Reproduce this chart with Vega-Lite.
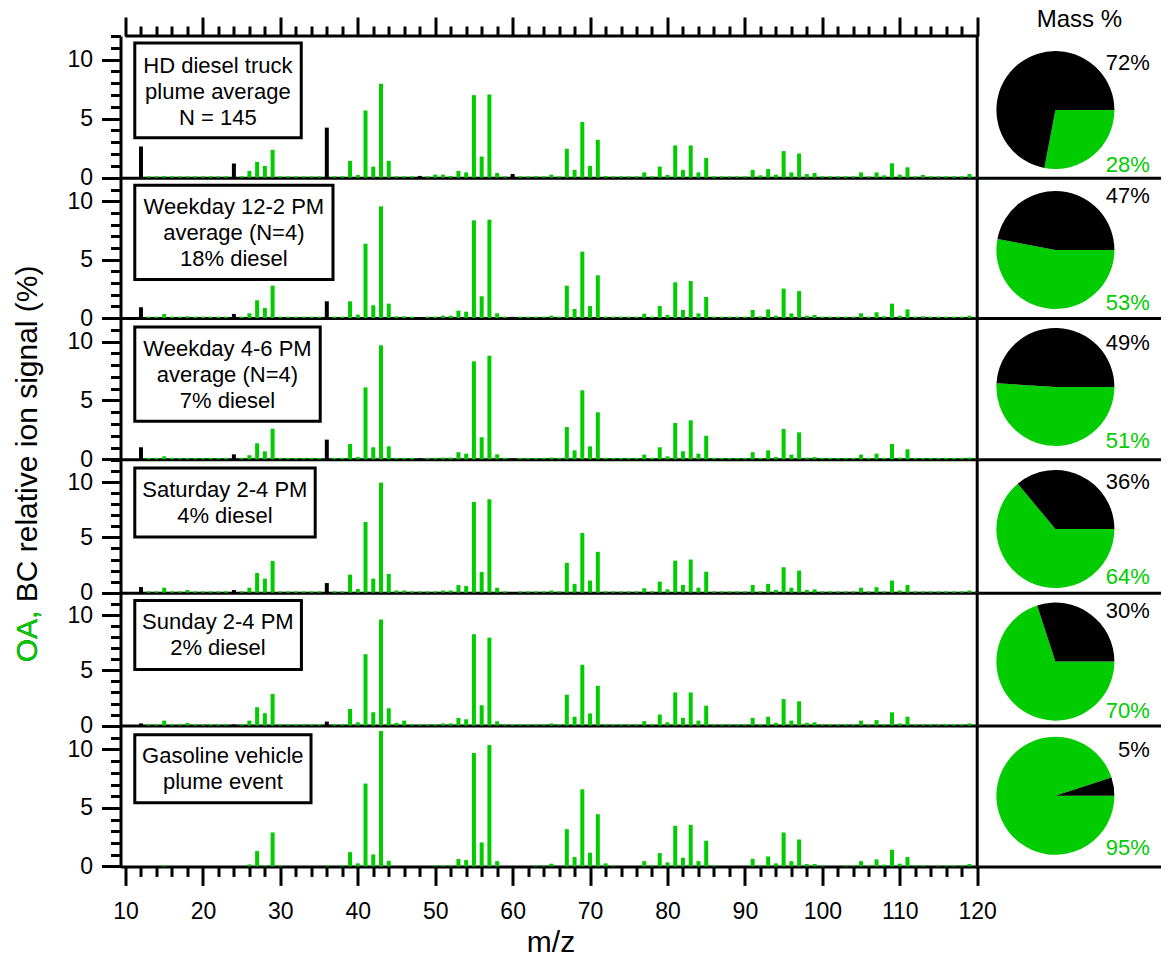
{
"$schema":"https://vega.github.io/schema/vega-lite/v6.json",
"background":"white",
"padding":{"left":12.5,"top":7,"right":0,"bottom":15},
"spacing":0,
"bounds":"flush",
"config":{"view":{"stroke":null},"font":"Liberation Sans",
"axis":{"grid":false,"domainColor":"black","domainWidth":3,"tickColor":"black","tickWidth":3,"labelColor":"black","labelFont":"Liberation Sans","labelFontSize":23,"labelFlush":false,"labelOverlap":false,"titleFont":"Liberation Sans","titleColor":"black","titleFontWeight":"normal"}},
"datasets":{
"labels":[{"p":1,"label":"HD diesel truck\nplume average\nN = 145"},{"p":2,"label":"Weekday 12-2 PM\naverage (N=4)\n18% diesel"},{"p":3,"label":"Weekday 4-6 PM\naverage (N=4)\n7% diesel"},{"p":4,"label":"Saturday 2-4 PM\n4% diesel"},{"p":5,"label":"Sunday 2-4 PM\n2% diesel"},{"p":6,"label":"Gasoline vehicle\nplume event"}],
"pie":[{"p":1,"t":"OA","f":0.28},{"p":1,"t":"BC","f":0.72},{"p":2,"t":"OA","f":0.53},{"p":2,"t":"BC","f":0.47},{"p":3,"t":"OA","f":0.51},{"p":3,"t":"BC","f":0.49},{"p":4,"t":"OA","f":0.64},{"p":4,"t":"BC","f":0.36},{"p":5,"t":"OA","f":0.70},{"p":5,"t":"BC","f":0.30},{"p":6,"t":"OA","f":0.95},{"p":6,"t":"BC","f":0.05}],
"ms":[
{"p":1,"m":12,"t":"BC","v":2.64},{"p":1,"m":24,"t":"BC","v":1.2},{"p":1,"m":36,"t":"BC","v":4.24},{"p":1,"m":48,"t":"BC","v":0.15},{"p":1,"m":60,"t":"BC","v":0.31},
{"p":1,"m":13,"t":"OA","v":0.12},{"p":1,"m":14,"t":"OA","v":0.12},{"p":1,"m":15,"t":"OA","v":0.15},{"p":1,"m":16,"t":"OA","v":0.12},{"p":1,"m":17,"t":"OA","v":0.12},{"p":1,"m":18,"t":"OA","v":0.12},{"p":1,"m":19,"t":"OA","v":0.12},{"p":1,"m":20,"t":"OA","v":0.12},{"p":1,"m":21,"t":"OA","v":0.12},{"p":1,"m":22,"t":"OA","v":0.12},{"p":1,"m":23,"t":"OA","v":0.12},{"p":1,"m":25,"t":"OA","v":0.12},{"p":1,"m":26,"t":"OA","v":0.57},{"p":1,"m":27,"t":"OA","v":1.34},{"p":1,"m":28,"t":"OA","v":1.0},{"p":1,"m":29,"t":"OA","v":2.36},{"p":1,"m":30,"t":"OA","v":0.12},{"p":1,"m":31,"t":"OA","v":0.12},{"p":1,"m":32,"t":"OA","v":0.12},{"p":1,"m":33,"t":"OA","v":0.12},{"p":1,"m":34,"t":"OA","v":0.12},{"p":1,"m":35,"t":"OA","v":0.12},{"p":1,"m":37,"t":"OA","v":0.12},{"p":1,"m":38,"t":"OA","v":0.12},{"p":1,"m":39,"t":"OA","v":1.42},{"p":1,"m":40,"t":"OA","v":0.23},{"p":1,"m":41,"t":"OA","v":5.69},{"p":1,"m":42,"t":"OA","v":0.94},{"p":1,"m":43,"t":"OA","v":7.96},{"p":1,"m":44,"t":"OA","v":1.42},{"p":1,"m":45,"t":"OA","v":0.12},{"p":1,"m":46,"t":"OA","v":0.12},{"p":1,"m":47,"t":"OA","v":0.12},{"p":1,"m":49,"t":"OA","v":0.12},{"p":1,"m":50,"t":"OA","v":0.26},{"p":1,"m":51,"t":"OA","v":0.26},{"p":1,"m":52,"t":"OA","v":0.15},{"p":1,"m":53,"t":"OA","v":0.57},{"p":1,"m":54,"t":"OA","v":0.45},{"p":1,"m":55,"t":"OA","v":6.99},{"p":1,"m":56,"t":"OA","v":1.79},{"p":1,"m":57,"t":"OA","v":7.05},{"p":1,"m":58,"t":"OA","v":0.4},{"p":1,"m":59,"t":"OA","v":0.12},{"p":1,"m":61,"t":"OA","v":0.12},{"p":1,"m":62,"t":"OA","v":0.12},{"p":1,"m":63,"t":"OA","v":0.15},{"p":1,"m":64,"t":"OA","v":0.12},{"p":1,"m":65,"t":"OA","v":0.26},{"p":1,"m":66,"t":"OA","v":0.12},{"p":1,"m":67,"t":"OA","v":2.45},{"p":1,"m":68,"t":"OA","v":0.66},{"p":1,"m":69,"t":"OA","v":4.72},{"p":1,"m":70,"t":"OA","v":1.0},{"p":1,"m":71,"t":"OA","v":3.21},{"p":1,"m":72,"t":"OA","v":0.15},{"p":1,"m":73,"t":"OA","v":0.12},{"p":1,"m":74,"t":"OA","v":0.12},{"p":1,"m":75,"t":"OA","v":0.12},{"p":1,"m":76,"t":"OA","v":0.12},{"p":1,"m":77,"t":"OA","v":0.45},{"p":1,"m":78,"t":"OA","v":0.12},{"p":1,"m":79,"t":"OA","v":0.94},{"p":1,"m":80,"t":"OA","v":0.23},{"p":1,"m":81,"t":"OA","v":2.73},{"p":1,"m":82,"t":"OA","v":0.66},{"p":1,"m":83,"t":"OA","v":2.73},{"p":1,"m":84,"t":"OA","v":0.45},{"p":1,"m":85,"t":"OA","v":1.68},{"p":1,"m":86,"t":"OA","v":0.12},{"p":1,"m":87,"t":"OA","v":0.12},{"p":1,"m":88,"t":"OA","v":0.12},{"p":1,"m":89,"t":"OA","v":0.12},{"p":1,"m":90,"t":"OA","v":0.12},{"p":1,"m":91,"t":"OA","v":0.66},{"p":1,"m":92,"t":"OA","v":0.2},{"p":1,"m":93,"t":"OA","v":0.74},{"p":1,"m":94,"t":"OA","v":0.26},{"p":1,"m":95,"t":"OA","v":2.25},{"p":1,"m":96,"t":"OA","v":0.45},{"p":1,"m":97,"t":"OA","v":2.05},{"p":1,"m":98,"t":"OA","v":0.31},{"p":1,"m":99,"t":"OA","v":0.4},{"p":1,"m":100,"t":"OA","v":0.12},{"p":1,"m":101,"t":"OA","v":0.12},{"p":1,"m":102,"t":"OA","v":0.12},{"p":1,"m":103,"t":"OA","v":0.12},{"p":1,"m":104,"t":"OA","v":0.12},{"p":1,"m":105,"t":"OA","v":0.45},{"p":1,"m":106,"t":"OA","v":0.12},{"p":1,"m":107,"t":"OA","v":0.45},{"p":1,"m":108,"t":"OA","v":0.2},{"p":1,"m":109,"t":"OA","v":1.22},{"p":1,"m":110,"t":"OA","v":0.26},{"p":1,"m":111,"t":"OA","v":0.88},{"p":1,"m":112,"t":"OA","v":0.12},{"p":1,"m":113,"t":"OA","v":0.23},{"p":1,"m":114,"t":"OA","v":0.12},{"p":1,"m":115,"t":"OA","v":0.12},{"p":1,"m":116,"t":"OA","v":0.12},{"p":1,"m":117,"t":"OA","v":0.12},{"p":1,"m":118,"t":"OA","v":0.12},{"p":1,"m":119,"t":"OA","v":0.31},{"p":1,"m":120,"t":"OA","v":0.12},
{"p":2,"m":12,"t":"BC","v":0.92},{"p":2,"m":24,"t":"BC","v":0.35},{"p":2,"m":36,"t":"BC","v":1.43},{"p":2,"m":48,"t":"BC","v":0.08},{"p":2,"m":60,"t":"BC","v":0.1},
{"p":2,"m":13,"t":"OA","v":0.12},{"p":2,"m":14,"t":"OA","v":0.12},{"p":2,"m":15,"t":"OA","v":0.34},{"p":2,"m":16,"t":"OA","v":0.12},{"p":2,"m":17,"t":"OA","v":0.12},{"p":2,"m":18,"t":"OA","v":0.15},{"p":2,"m":19,"t":"OA","v":0.12},{"p":2,"m":20,"t":"OA","v":0.12},{"p":2,"m":21,"t":"OA","v":0.12},{"p":2,"m":22,"t":"OA","v":0.12},{"p":2,"m":23,"t":"OA","v":0.12},{"p":2,"m":25,"t":"OA","v":0.12},{"p":2,"m":26,"t":"OA","v":0.4},{"p":2,"m":27,"t":"OA","v":1.52},{"p":2,"m":28,"t":"OA","v":0.86},{"p":2,"m":29,"t":"OA","v":2.77},{"p":2,"m":30,"t":"OA","v":0.12},{"p":2,"m":31,"t":"OA","v":0.12},{"p":2,"m":32,"t":"OA","v":0.12},{"p":2,"m":33,"t":"OA","v":0.12},{"p":2,"m":34,"t":"OA","v":0.12},{"p":2,"m":35,"t":"OA","v":0.12},{"p":2,"m":37,"t":"OA","v":0.12},{"p":2,"m":38,"t":"OA","v":0.12},{"p":2,"m":39,"t":"OA","v":1.43},{"p":2,"m":40,"t":"OA","v":0.29},{"p":2,"m":41,"t":"OA","v":6.37},{"p":2,"m":42,"t":"OA","v":1.09},{"p":2,"m":43,"t":"OA","v":9.57},{"p":2,"m":44,"t":"OA","v":1.23},{"p":2,"m":45,"t":"OA","v":0.15},{"p":2,"m":46,"t":"OA","v":0.15},{"p":2,"m":47,"t":"OA","v":0.12},{"p":2,"m":49,"t":"OA","v":0.12},{"p":2,"m":50,"t":"OA","v":0.12},{"p":2,"m":51,"t":"OA","v":0.2},{"p":2,"m":52,"t":"OA","v":0.2},{"p":2,"m":53,"t":"OA","v":0.63},{"p":2,"m":54,"t":"OA","v":0.54},{"p":2,"m":55,"t":"OA","v":8.37},{"p":2,"m":56,"t":"OA","v":1.86},{"p":2,"m":57,"t":"OA","v":8.43},{"p":2,"m":58,"t":"OA","v":0.4},{"p":2,"m":59,"t":"OA","v":0.12},{"p":2,"m":61,"t":"OA","v":0.12},{"p":2,"m":62,"t":"OA","v":0.12},{"p":2,"m":63,"t":"OA","v":0.12},{"p":2,"m":64,"t":"OA","v":0.12},{"p":2,"m":65,"t":"OA","v":0.2},{"p":2,"m":66,"t":"OA","v":0.12},{"p":2,"m":67,"t":"OA","v":2.77},{"p":2,"m":68,"t":"OA","v":0.77},{"p":2,"m":69,"t":"OA","v":5.69},{"p":2,"m":70,"t":"OA","v":1.03},{"p":2,"m":71,"t":"OA","v":3.66},{"p":2,"m":72,"t":"OA","v":0.12},{"p":2,"m":73,"t":"OA","v":0.12},{"p":2,"m":74,"t":"OA","v":0.12},{"p":2,"m":75,"t":"OA","v":0.12},{"p":2,"m":76,"t":"OA","v":0.12},{"p":2,"m":77,"t":"OA","v":0.37},{"p":2,"m":78,"t":"OA","v":0.12},{"p":2,"m":79,"t":"OA","v":1.03},{"p":2,"m":80,"t":"OA","v":0.26},{"p":2,"m":81,"t":"OA","v":3.06},{"p":2,"m":82,"t":"OA","v":0.69},{"p":2,"m":83,"t":"OA","v":3.17},{"p":2,"m":84,"t":"OA","v":0.4},{"p":2,"m":85,"t":"OA","v":1.8},{"p":2,"m":86,"t":"OA","v":0.12},{"p":2,"m":87,"t":"OA","v":0.12},{"p":2,"m":88,"t":"OA","v":0.12},{"p":2,"m":89,"t":"OA","v":0.12},{"p":2,"m":90,"t":"OA","v":0.12},{"p":2,"m":91,"t":"OA","v":0.69},{"p":2,"m":92,"t":"OA","v":0.15},{"p":2,"m":93,"t":"OA","v":0.74},{"p":2,"m":94,"t":"OA","v":0.2},{"p":2,"m":95,"t":"OA","v":2.52},{"p":2,"m":96,"t":"OA","v":0.4},{"p":2,"m":97,"t":"OA","v":2.31},{"p":2,"m":98,"t":"OA","v":0.2},{"p":2,"m":99,"t":"OA","v":0.26},{"p":2,"m":100,"t":"OA","v":0.12},{"p":2,"m":101,"t":"OA","v":0.12},{"p":2,"m":102,"t":"OA","v":0.12},{"p":2,"m":103,"t":"OA","v":0.12},{"p":2,"m":104,"t":"OA","v":0.12},{"p":2,"m":105,"t":"OA","v":0.4},{"p":2,"m":106,"t":"OA","v":0.12},{"p":2,"m":107,"t":"OA","v":0.49},{"p":2,"m":108,"t":"OA","v":0.15},{"p":2,"m":109,"t":"OA","v":1.23},{"p":2,"m":110,"t":"OA","v":0.2},{"p":2,"m":111,"t":"OA","v":0.74},{"p":2,"m":112,"t":"OA","v":0.12},{"p":2,"m":113,"t":"OA","v":0.15},{"p":2,"m":114,"t":"OA","v":0.12},{"p":2,"m":115,"t":"OA","v":0.12},{"p":2,"m":116,"t":"OA","v":0.12},{"p":2,"m":117,"t":"OA","v":0.12},{"p":2,"m":118,"t":"OA","v":0.12},{"p":2,"m":119,"t":"OA","v":0.2},{"p":2,"m":120,"t":"OA","v":0.12},
{"p":3,"m":12,"t":"BC","v":1.02},{"p":3,"m":24,"t":"BC","v":0.42},{"p":3,"m":36,"t":"BC","v":1.67},{"p":3,"m":48,"t":"BC","v":0.08},{"p":3,"m":60,"t":"BC","v":0.1},
{"p":3,"m":13,"t":"OA","v":0.12},{"p":3,"m":14,"t":"OA","v":0.12},{"p":3,"m":15,"t":"OA","v":0.25},{"p":3,"m":16,"t":"OA","v":0.12},{"p":3,"m":17,"t":"OA","v":0.12},{"p":3,"m":18,"t":"OA","v":0.12},{"p":3,"m":19,"t":"OA","v":0.12},{"p":3,"m":20,"t":"OA","v":0.12},{"p":3,"m":21,"t":"OA","v":0.12},{"p":3,"m":22,"t":"OA","v":0.12},{"p":3,"m":23,"t":"OA","v":0.12},{"p":3,"m":25,"t":"OA","v":0.12},{"p":3,"m":26,"t":"OA","v":0.35},{"p":3,"m":27,"t":"OA","v":1.36},{"p":3,"m":28,"t":"OA","v":0.68},{"p":3,"m":29,"t":"OA","v":2.6},{"p":3,"m":30,"t":"OA","v":0.12},{"p":3,"m":31,"t":"OA","v":0.12},{"p":3,"m":32,"t":"OA","v":0.12},{"p":3,"m":33,"t":"OA","v":0.12},{"p":3,"m":34,"t":"OA","v":0.12},{"p":3,"m":35,"t":"OA","v":0.12},{"p":3,"m":37,"t":"OA","v":0.12},{"p":3,"m":38,"t":"OA","v":0.12},{"p":3,"m":39,"t":"OA","v":1.3},{"p":3,"m":40,"t":"OA","v":0.2},{"p":3,"m":41,"t":"OA","v":6.11},{"p":3,"m":42,"t":"OA","v":1.02},{"p":3,"m":43,"t":"OA","v":9.68},{"p":3,"m":44,"t":"OA","v":1.1},{"p":3,"m":45,"t":"OA","v":0.12},{"p":3,"m":46,"t":"OA","v":0.12},{"p":3,"m":47,"t":"OA","v":0.12},{"p":3,"m":49,"t":"OA","v":0.12},{"p":3,"m":50,"t":"OA","v":0.12},{"p":3,"m":51,"t":"OA","v":0.15},{"p":3,"m":52,"t":"OA","v":0.15},{"p":3,"m":53,"t":"OA","v":0.6},{"p":3,"m":54,"t":"OA","v":0.48},{"p":3,"m":55,"t":"OA","v":8.32},{"p":3,"m":56,"t":"OA","v":1.87},{"p":3,"m":57,"t":"OA","v":8.8},{"p":3,"m":58,"t":"OA","v":0.42},{"p":3,"m":59,"t":"OA","v":0.12},{"p":3,"m":61,"t":"OA","v":0.12},{"p":3,"m":62,"t":"OA","v":0.12},{"p":3,"m":63,"t":"OA","v":0.12},{"p":3,"m":64,"t":"OA","v":0.12},{"p":3,"m":65,"t":"OA","v":0.15},{"p":3,"m":66,"t":"OA","v":0.12},{"p":3,"m":67,"t":"OA","v":2.74},{"p":3,"m":68,"t":"OA","v":0.76},{"p":3,"m":69,"t":"OA","v":5.86},{"p":3,"m":70,"t":"OA","v":1.1},{"p":3,"m":71,"t":"OA","v":3.99},{"p":3,"m":72,"t":"OA","v":0.12},{"p":3,"m":73,"t":"OA","v":0.12},{"p":3,"m":74,"t":"OA","v":0.12},{"p":3,"m":75,"t":"OA","v":0.12},{"p":3,"m":76,"t":"OA","v":0.12},{"p":3,"m":77,"t":"OA","v":0.4},{"p":3,"m":78,"t":"OA","v":0.12},{"p":3,"m":79,"t":"OA","v":1.02},{"p":3,"m":80,"t":"OA","v":0.25},{"p":3,"m":81,"t":"OA","v":3.08},{"p":3,"m":82,"t":"OA","v":0.68},{"p":3,"m":83,"t":"OA","v":3.31},{"p":3,"m":84,"t":"OA","v":0.48},{"p":3,"m":85,"t":"OA","v":2.0},{"p":3,"m":86,"t":"OA","v":0.12},{"p":3,"m":87,"t":"OA","v":0.12},{"p":3,"m":88,"t":"OA","v":0.12},{"p":3,"m":89,"t":"OA","v":0.12},{"p":3,"m":90,"t":"OA","v":0.12},{"p":3,"m":91,"t":"OA","v":0.6},{"p":3,"m":92,"t":"OA","v":0.12},{"p":3,"m":93,"t":"OA","v":0.76},{"p":3,"m":94,"t":"OA","v":0.2},{"p":3,"m":95,"t":"OA","v":2.57},{"p":3,"m":96,"t":"OA","v":0.4},{"p":3,"m":97,"t":"OA","v":2.29},{"p":3,"m":98,"t":"OA","v":0.15},{"p":3,"m":99,"t":"OA","v":0.2},{"p":3,"m":100,"t":"OA","v":0.12},{"p":3,"m":101,"t":"OA","v":0.12},{"p":3,"m":102,"t":"OA","v":0.12},{"p":3,"m":103,"t":"OA","v":0.12},{"p":3,"m":104,"t":"OA","v":0.12},{"p":3,"m":105,"t":"OA","v":0.4},{"p":3,"m":106,"t":"OA","v":0.12},{"p":3,"m":107,"t":"OA","v":0.48},{"p":3,"m":108,"t":"OA","v":0.12},{"p":3,"m":109,"t":"OA","v":1.3},{"p":3,"m":110,"t":"OA","v":0.15},{"p":3,"m":111,"t":"OA","v":0.85},{"p":3,"m":112,"t":"OA","v":0.12},{"p":3,"m":113,"t":"OA","v":0.12},{"p":3,"m":114,"t":"OA","v":0.12},{"p":3,"m":115,"t":"OA","v":0.12},{"p":3,"m":116,"t":"OA","v":0.12},{"p":3,"m":117,"t":"OA","v":0.12},{"p":3,"m":118,"t":"OA","v":0.12},{"p":3,"m":119,"t":"OA","v":0.15},{"p":3,"m":120,"t":"OA","v":0.12},
{"p":4,"m":12,"t":"BC","v":0.51},{"p":4,"m":24,"t":"BC","v":0.24},{"p":4,"m":36,"t":"BC","v":0.87},{"p":4,"m":60,"t":"BC","v":0.06},
{"p":4,"m":13,"t":"OA","v":0.12},{"p":4,"m":14,"t":"OA","v":0.12},{"p":4,"m":15,"t":"OA","v":0.45},{"p":4,"m":16,"t":"OA","v":0.12},{"p":4,"m":17,"t":"OA","v":0.12},{"p":4,"m":18,"t":"OA","v":0.24},{"p":4,"m":19,"t":"OA","v":0.12},{"p":4,"m":20,"t":"OA","v":0.12},{"p":4,"m":21,"t":"OA","v":0.12},{"p":4,"m":22,"t":"OA","v":0.12},{"p":4,"m":23,"t":"OA","v":0.12},{"p":4,"m":25,"t":"OA","v":0.12},{"p":4,"m":26,"t":"OA","v":0.45},{"p":4,"m":27,"t":"OA","v":1.78},{"p":4,"m":28,"t":"OA","v":1.27},{"p":4,"m":29,"t":"OA","v":2.87},{"p":4,"m":30,"t":"OA","v":0.12},{"p":4,"m":31,"t":"OA","v":0.12},{"p":4,"m":32,"t":"OA","v":0.12},{"p":4,"m":33,"t":"OA","v":0.12},{"p":4,"m":34,"t":"OA","v":0.12},{"p":4,"m":35,"t":"OA","v":0.12},{"p":4,"m":37,"t":"OA","v":0.12},{"p":4,"m":38,"t":"OA","v":0.12},{"p":4,"m":39,"t":"OA","v":1.63},{"p":4,"m":40,"t":"OA","v":0.33},{"p":4,"m":41,"t":"OA","v":6.39},{"p":4,"m":42,"t":"OA","v":1.27},{"p":4,"m":43,"t":"OA","v":9.95},{"p":4,"m":44,"t":"OA","v":1.69},{"p":4,"m":45,"t":"OA","v":0.2},{"p":4,"m":46,"t":"OA","v":0.2},{"p":4,"m":47,"t":"OA","v":0.12},{"p":4,"m":48,"t":"OA","v":0.12},{"p":4,"m":49,"t":"OA","v":0.12},{"p":4,"m":50,"t":"OA","v":0.12},{"p":4,"m":51,"t":"OA","v":0.2},{"p":4,"m":52,"t":"OA","v":0.2},{"p":4,"m":53,"t":"OA","v":0.69},{"p":4,"m":54,"t":"OA","v":0.6},{"p":4,"m":55,"t":"OA","v":8.2},{"p":4,"m":56,"t":"OA","v":1.87},{"p":4,"m":57,"t":"OA","v":8.45},{"p":4,"m":58,"t":"OA","v":0.45},{"p":4,"m":59,"t":"OA","v":0.12},{"p":4,"m":61,"t":"OA","v":0.12},{"p":4,"m":62,"t":"OA","v":0.12},{"p":4,"m":63,"t":"OA","v":0.12},{"p":4,"m":64,"t":"OA","v":0.12},{"p":4,"m":65,"t":"OA","v":0.2},{"p":4,"m":66,"t":"OA","v":0.12},{"p":4,"m":67,"t":"OA","v":2.7},{"p":4,"m":68,"t":"OA","v":0.8},{"p":4,"m":69,"t":"OA","v":5.4},{"p":4,"m":70,"t":"OA","v":1.1},{"p":4,"m":71,"t":"OA","v":3.7},{"p":4,"m":72,"t":"OA","v":0.12},{"p":4,"m":73,"t":"OA","v":0.12},{"p":4,"m":74,"t":"OA","v":0.12},{"p":4,"m":75,"t":"OA","v":0.12},{"p":4,"m":76,"t":"OA","v":0.12},{"p":4,"m":77,"t":"OA","v":0.4},{"p":4,"m":78,"t":"OA","v":0.12},{"p":4,"m":79,"t":"OA","v":1.0},{"p":4,"m":80,"t":"OA","v":0.3},{"p":4,"m":81,"t":"OA","v":2.9},{"p":4,"m":82,"t":"OA","v":0.7},{"p":4,"m":83,"t":"OA","v":3.0},{"p":4,"m":84,"t":"OA","v":0.45},{"p":4,"m":85,"t":"OA","v":1.9},{"p":4,"m":86,"t":"OA","v":0.12},{"p":4,"m":87,"t":"OA","v":0.12},{"p":4,"m":88,"t":"OA","v":0.12},{"p":4,"m":89,"t":"OA","v":0.12},{"p":4,"m":90,"t":"OA","v":0.12},{"p":4,"m":91,"t":"OA","v":0.7},{"p":4,"m":92,"t":"OA","v":0.12},{"p":4,"m":93,"t":"OA","v":0.8},{"p":4,"m":94,"t":"OA","v":0.25},{"p":4,"m":95,"t":"OA","v":2.3},{"p":4,"m":96,"t":"OA","v":0.45},{"p":4,"m":97,"t":"OA","v":2.0},{"p":4,"m":98,"t":"OA","v":0.25},{"p":4,"m":99,"t":"OA","v":0.3},{"p":4,"m":100,"t":"OA","v":0.12},{"p":4,"m":101,"t":"OA","v":0.12},{"p":4,"m":102,"t":"OA","v":0.12},{"p":4,"m":103,"t":"OA","v":0.12},{"p":4,"m":104,"t":"OA","v":0.12},{"p":4,"m":105,"t":"OA","v":0.45},{"p":4,"m":106,"t":"OA","v":0.12},{"p":4,"m":107,"t":"OA","v":0.5},{"p":4,"m":108,"t":"OA","v":0.12},{"p":4,"m":109,"t":"OA","v":1.1},{"p":4,"m":110,"t":"OA","v":0.2},{"p":4,"m":111,"t":"OA","v":0.7},{"p":4,"m":112,"t":"OA","v":0.12},{"p":4,"m":113,"t":"OA","v":0.12},{"p":4,"m":114,"t":"OA","v":0.12},{"p":4,"m":115,"t":"OA","v":0.12},{"p":4,"m":116,"t":"OA","v":0.12},{"p":4,"m":117,"t":"OA","v":0.12},{"p":4,"m":118,"t":"OA","v":0.12},{"p":4,"m":119,"t":"OA","v":0.2},{"p":4,"m":120,"t":"OA","v":0.12},
{"p":5,"m":12,"t":"BC","v":0.2},{"p":5,"m":24,"t":"BC","v":0.1},{"p":5,"m":36,"t":"BC","v":0.36},
{"p":5,"m":13,"t":"OA","v":0.12},{"p":5,"m":14,"t":"OA","v":0.12},{"p":5,"m":15,"t":"OA","v":0.45},{"p":5,"m":16,"t":"OA","v":0.12},{"p":5,"m":17,"t":"OA","v":0.12},{"p":5,"m":18,"t":"OA","v":0.24},{"p":5,"m":19,"t":"OA","v":0.12},{"p":5,"m":20,"t":"OA","v":0.12},{"p":5,"m":21,"t":"OA","v":0.12},{"p":5,"m":22,"t":"OA","v":0.12},{"p":5,"m":23,"t":"OA","v":0.12},{"p":5,"m":25,"t":"OA","v":0.12},{"p":5,"m":26,"t":"OA","v":0.45},{"p":5,"m":27,"t":"OA","v":1.66},{"p":5,"m":28,"t":"OA","v":1.12},{"p":5,"m":29,"t":"OA","v":2.87},{"p":5,"m":30,"t":"OA","v":0.12},{"p":5,"m":31,"t":"OA","v":0.12},{"p":5,"m":32,"t":"OA","v":0.12},{"p":5,"m":33,"t":"OA","v":0.12},{"p":5,"m":34,"t":"OA","v":0.12},{"p":5,"m":35,"t":"OA","v":0.12},{"p":5,"m":37,"t":"OA","v":0.12},{"p":5,"m":38,"t":"OA","v":0.12},{"p":5,"m":39,"t":"OA","v":1.51},{"p":5,"m":40,"t":"OA","v":0.3},{"p":5,"m":41,"t":"OA","v":6.46},{"p":5,"m":42,"t":"OA","v":1.21},{"p":5,"m":43,"t":"OA","v":9.6},{"p":5,"m":44,"t":"OA","v":1.57},{"p":5,"m":45,"t":"OA","v":0.25},{"p":5,"m":46,"t":"OA","v":0.45},{"p":5,"m":47,"t":"OA","v":0.12},{"p":5,"m":48,"t":"OA","v":0.12},{"p":5,"m":49,"t":"OA","v":0.12},{"p":5,"m":50,"t":"OA","v":0.12},{"p":5,"m":51,"t":"OA","v":0.2},{"p":5,"m":52,"t":"OA","v":0.2},{"p":5,"m":53,"t":"OA","v":0.69},{"p":5,"m":54,"t":"OA","v":0.57},{"p":5,"m":55,"t":"OA","v":8.27},{"p":5,"m":56,"t":"OA","v":1.84},{"p":5,"m":57,"t":"OA","v":7.96},{"p":5,"m":58,"t":"OA","v":0.39},{"p":5,"m":59,"t":"OA","v":0.12},{"p":5,"m":60,"t":"OA","v":0.12},{"p":5,"m":61,"t":"OA","v":0.12},{"p":5,"m":62,"t":"OA","v":0.12},{"p":5,"m":63,"t":"OA","v":0.12},{"p":5,"m":64,"t":"OA","v":0.12},{"p":5,"m":65,"t":"OA","v":0.2},{"p":5,"m":66,"t":"OA","v":0.12},{"p":5,"m":67,"t":"OA","v":2.8},{"p":5,"m":68,"t":"OA","v":0.8},{"p":5,"m":69,"t":"OA","v":5.5},{"p":5,"m":70,"t":"OA","v":1.1},{"p":5,"m":71,"t":"OA","v":3.6},{"p":5,"m":72,"t":"OA","v":0.12},{"p":5,"m":73,"t":"OA","v":0.12},{"p":5,"m":74,"t":"OA","v":0.12},{"p":5,"m":75,"t":"OA","v":0.12},{"p":5,"m":76,"t":"OA","v":0.12},{"p":5,"m":77,"t":"OA","v":0.4},{"p":5,"m":78,"t":"OA","v":0.12},{"p":5,"m":79,"t":"OA","v":1.0},{"p":5,"m":80,"t":"OA","v":0.3},{"p":5,"m":81,"t":"OA","v":3.0},{"p":5,"m":82,"t":"OA","v":0.7},{"p":5,"m":83,"t":"OA","v":3.0},{"p":5,"m":84,"t":"OA","v":0.45},{"p":5,"m":85,"t":"OA","v":1.8},{"p":5,"m":86,"t":"OA","v":0.12},{"p":5,"m":87,"t":"OA","v":0.12},{"p":5,"m":88,"t":"OA","v":0.12},{"p":5,"m":89,"t":"OA","v":0.12},{"p":5,"m":90,"t":"OA","v":0.12},{"p":5,"m":91,"t":"OA","v":0.7},{"p":5,"m":92,"t":"OA","v":0.12},{"p":5,"m":93,"t":"OA","v":0.8},{"p":5,"m":94,"t":"OA","v":0.25},{"p":5,"m":95,"t":"OA","v":2.4},{"p":5,"m":96,"t":"OA","v":0.45},{"p":5,"m":97,"t":"OA","v":2.2},{"p":5,"m":98,"t":"OA","v":0.25},{"p":5,"m":99,"t":"OA","v":0.3},{"p":5,"m":100,"t":"OA","v":0.12},{"p":5,"m":101,"t":"OA","v":0.12},{"p":5,"m":102,"t":"OA","v":0.12},{"p":5,"m":103,"t":"OA","v":0.12},{"p":5,"m":104,"t":"OA","v":0.12},{"p":5,"m":105,"t":"OA","v":0.45},{"p":5,"m":106,"t":"OA","v":0.12},{"p":5,"m":107,"t":"OA","v":0.5},{"p":5,"m":108,"t":"OA","v":0.12},{"p":5,"m":109,"t":"OA","v":1.2},{"p":5,"m":110,"t":"OA","v":0.2},{"p":5,"m":111,"t":"OA","v":0.8},{"p":5,"m":112,"t":"OA","v":0.12},{"p":5,"m":113,"t":"OA","v":0.12},{"p":5,"m":114,"t":"OA","v":0.12},{"p":5,"m":115,"t":"OA","v":0.12},{"p":5,"m":116,"t":"OA","v":0.12},{"p":5,"m":117,"t":"OA","v":0.12},{"p":5,"m":118,"t":"OA","v":0.12},{"p":5,"m":119,"t":"OA","v":0.2},{"p":5,"m":120,"t":"OA","v":0.12},
{"p":6,"m":15,"t":"OA","v":0.1},{"p":6,"m":26,"t":"OA","v":0.17},{"p":6,"m":27,"t":"OA","v":1.31},{"p":6,"m":28,"t":"OA","v":0.08},{"p":6,"m":29,"t":"OA","v":2.9},{"p":6,"m":30,"t":"OA","v":0.08},{"p":6,"m":36,"t":"OA","v":0.08},{"p":6,"m":38,"t":"OA","v":0.08},{"p":6,"m":39,"t":"OA","v":1.22},{"p":6,"m":40,"t":"OA","v":0.26},{"p":6,"m":41,"t":"OA","v":7.08},{"p":6,"m":42,"t":"OA","v":1.02},{"p":6,"m":43,"t":"OA","v":11.57},{"p":6,"m":44,"t":"OA","v":0.48},{"p":6,"m":50,"t":"OA","v":0.08},{"p":6,"m":51,"t":"OA","v":0.1},{"p":6,"m":52,"t":"OA","v":0.08},{"p":6,"m":53,"t":"OA","v":0.63},{"p":6,"m":54,"t":"OA","v":0.54},{"p":6,"m":55,"t":"OA","v":9.69},{"p":6,"m":56,"t":"OA","v":2.05},{"p":6,"m":57,"t":"OA","v":10.37},{"p":6,"m":58,"t":"OA","v":0.45},{"p":6,"m":63,"t":"OA","v":0.08},{"p":6,"m":64,"t":"OA","v":0.08},{"p":6,"m":65,"t":"OA","v":0.23},{"p":6,"m":67,"t":"OA","v":3.18},{"p":6,"m":68,"t":"OA","v":0.8},{"p":6,"m":69,"t":"OA","v":6.59},{"p":6,"m":70,"t":"OA","v":1.17},{"p":6,"m":71,"t":"OA","v":4.46},{"p":6,"m":72,"t":"OA","v":0.26},{"p":6,"m":73,"t":"OA","v":0.08},{"p":6,"m":77,"t":"OA","v":0.45},{"p":6,"m":78,"t":"OA","v":0.08},{"p":6,"m":79,"t":"OA","v":1.14},{"p":6,"m":80,"t":"OA","v":0.34},{"p":6,"m":81,"t":"OA","v":3.47},{"p":6,"m":82,"t":"OA","v":0.74},{"p":6,"m":83,"t":"OA","v":3.55},{"p":6,"m":84,"t":"OA","v":0.45},{"p":6,"m":85,"t":"OA","v":2.19},{"p":6,"m":86,"t":"OA","v":0.08},{"p":6,"m":91,"t":"OA","v":0.65},{"p":6,"m":92,"t":"OA","v":0.1},{"p":6,"m":93,"t":"OA","v":0.85},{"p":6,"m":94,"t":"OA","v":0.26},{"p":6,"m":95,"t":"OA","v":2.9},{"p":6,"m":96,"t":"OA","v":0.45},{"p":6,"m":97,"t":"OA","v":2.3},{"p":6,"m":98,"t":"OA","v":0.2},{"p":6,"m":99,"t":"OA","v":0.2},{"p":6,"m":100,"t":"OA","v":0.08},{"p":6,"m":103,"t":"OA","v":0.08},{"p":6,"m":104,"t":"OA","v":0.08},{"p":6,"m":105,"t":"OA","v":0.45},{"p":6,"m":106,"t":"OA","v":0.08},{"p":6,"m":107,"t":"OA","v":0.6},{"p":6,"m":108,"t":"OA","v":0.15},{"p":6,"m":109,"t":"OA","v":1.42},{"p":6,"m":110,"t":"OA","v":0.23},{"p":6,"m":111,"t":"OA","v":0.8},{"p":6,"m":112,"t":"OA","v":0.08},{"p":6,"m":113,"t":"OA","v":0.1},{"p":6,"m":115,"t":"OA","v":0.08},{"p":6,"m":116,"t":"OA","v":0.08},{"p":6,"m":117,"t":"OA","v":0.08},{"p":6,"m":118,"t":"OA","v":0.08},{"p":6,"m":119,"t":"OA","v":0.2},{"p":6,"m":120,"t":"OA","v":0.08}
]},
"vconcat":[
{"width":1040,"height":141.7,"resolve":{"axis":{"x":"independent","y":"independent"}},"layer":[
 {"data":{"name":"labels"},"transform":[{"filter":"datum.p==1"}],"mark":{"type":"rect","fill":"white","stroke":"black","strokeWidth":3},"encoding":{"x":{"datum":11.2,"type":"quantitative","axis":null},"x2":{"datum":32.7},"y":{"datum":11.4,"type":"quantitative","axis":null},"y2":{"datum":3.38}}},
 {"data":{"name":"labels"},"transform":[{"filter":"datum.p==1"}],"mark":{"type":"text","fontSize":22,"lineHeight":26,"lineBreak":"\n","align":"center","baseline":"middle","color":"black"},"encoding":{"x":{"datum":21.93,"type":"quantitative","axis":null},"y":{"datum":9.46,"type":"quantitative","axis":null},"text":{"field":"label"}}},
 {"data":{"name":"ms"},"transform":[{"filter":"datum.p==1"}],"mark":{"type":"bar","width":4,"orient":"vertical"},"encoding":{"x":{"field":"m","type":"quantitative","scale":{"domain":[10,143.03],"nice":false,"zero":false},"axis":{"orient":"top","values":[10,20,30,40,50,60,70,80,90,100,110,120],"tickSize":19,"labels":false,"domain":false,"title":null}},"y":{"field":"v","type":"quantitative","stack":null,"scale":{"domain":[0,12],"nice":false},"axis":{"orient":"left","values":[0,5,10],"tickSize":19,"labelPadding":9,"title":null}},"color":{"field":"t","type":"nominal","scale":{"domain":["OA","BC"],"range":["#00cc00","#000000"]},"legend":null}}},
 {"data":{"values":[{}]},"mark":{"type":"rule","strokeWidth":3,"color":"black"},"encoding":{"x":{"datum":120,"type":"quantitative","axis":{"orient":"top","values":[12,14,16,18,22,24,26,28,32,34,36,38,42,44,46,48,52,54,56,58,62,64,66,68,72,74,76,78,82,84,86,88,92,94,96,98,102,104,106,108,112,114,116,118],"tickSize":10,"labels":false,"domain":false,"title":null}},"y":{"datum":0,"type":"quantitative","axis":{"orient":"left","values":[1,2,3,4,6,7,8,9,11,12],"tickSize":10,"labels":false,"domain":false,"title":null}},"y2":{"datum":12}}},
 {"data":{"values":[{}]},"mark":{"type":"rule","strokeWidth":3,"color":"black"},"encoding":{"x":{"datum":10,"type":"quantitative","axis":{"orient":"bottom","ticks":false,"labels":false,"domain":true,"title":null}},"x2":{"datum":120},"y":{"datum":12,"type":"quantitative","axis":null}}},
 {"data":{"name":"pie"},"transform":[{"filter":"datum.p==1"}],"mark":{"type":"arc","outerRadius":59},"encoding":{"x":{"datum":130.1,"type":"quantitative","axis":null},"y":{"datum":5.73,"type":"quantitative","axis":null},"theta":{"field":"f","type":"quantitative","stack":true,"scale":{"range":[1.5708,7.854]}},"order":{"field":"t","sort":"descending"},"color":{"field":"t","type":"nominal","scale":{"domain":["OA","BC"],"range":["#00cc00","#000000"]},"legend":null}}},
 {"data":{"name":"pie"},"transform":[{"filter":"datum.p==1 && datum.t=='BC'"}],"mark":{"type":"text","align":"right","baseline":"middle","fontSize":22},"encoding":{"x":{"datum":142.3,"type":"quantitative","axis":null},"y":{"datum":9.72,"type":"quantitative","axis":null},"text":{"field":"f","type":"quantitative","format":".0%"},"color":{"field":"t","type":"nominal","scale":{"domain":["OA","BC"],"range":["#00cc00","#000000"]},"legend":null}}},
 {"data":{"name":"pie"},"transform":[{"filter":"datum.p==1 && datum.t=='OA'"}],"mark":{"type":"text","align":"right","baseline":"middle","fontSize":22},"encoding":{"x":{"datum":142.3,"type":"quantitative","axis":null},"y":{"datum":1.08,"type":"quantitative","axis":null},"text":{"field":"f","type":"quantitative","format":".0%"},"color":{"field":"t","type":"nominal","scale":{"domain":["OA","BC"],"range":["#00cc00","#000000"]},"legend":null}}},
 {"data":{"values":[{"s":"Mass %"}]},"mark":{"type":"text","fontSize":24,"align":"center","baseline":"middle","color":"black"},"encoding":{"x":{"datum":133.2,"type":"quantitative","axis":null},"y":{"datum":13.36,"type":"quantitative","axis":null},"text":{"field":"s"}}}
]},
{"width":1040,"height":140,"resolve":{"axis":{"x":"independent","y":"independent"}},"layer":[
 {"data":{"name":"labels"},"transform":[{"filter":"datum.p==2"}],"mark":{"type":"rect","fill":"white","stroke":"black","strokeWidth":3},"encoding":{"x":{"datum":11.2,"type":"quantitative","axis":null},"x2":{"datum":36.8},"y":{"datum":11.37,"type":"quantitative","axis":null},"y2":{"datum":3.29}}},
 {"data":{"name":"labels"},"transform":[{"filter":"datum.p==2"}],"mark":{"type":"text","fontSize":22,"lineHeight":26,"lineBreak":"\n","align":"center","baseline":"middle","color":"black"},"encoding":{"x":{"datum":24.0,"type":"quantitative","axis":null},"y":{"datum":9.49,"type":"quantitative","axis":null},"text":{"field":"label"}}},
 {"data":{"name":"ms"},"transform":[{"filter":"datum.p==2"}],"mark":{"type":"bar","width":4,"orient":"vertical"},"encoding":{"x":{"field":"m","type":"quantitative","scale":{"domain":[10,143.03],"nice":false,"zero":false},"axis":{"orient":"bottom","ticks":false,"labels":false,"domain":true,"title":null}},"y":{"field":"v","type":"quantitative","stack":null,"scale":{"domain":[0,12],"nice":false},"axis":{"orient":"left","values":[0,5,10],"tickSize":19,"labelPadding":9,"title":null}},"color":{"field":"t","type":"nominal","scale":{"domain":["OA","BC"],"range":["#00cc00","#000000"]},"legend":null}}},
 {"data":{"values":[{}]},"mark":{"type":"rule","strokeWidth":3,"color":"black"},"encoding":{"x":{"datum":120,"type":"quantitative","axis":null},"y":{"datum":0,"type":"quantitative","axis":{"orient":"left","values":[1,2,3,4,6,7,8,9,11,12],"tickSize":10,"labels":false,"domain":false,"title":null}},"y2":{"datum":12}}},
 {"data":{"name":"pie"},"transform":[{"filter":"datum.p==2"}],"mark":{"type":"arc","outerRadius":59},"encoding":{"x":{"datum":130.1,"type":"quantitative","axis":null},"y":{"datum":5.83,"type":"quantitative","axis":null},"theta":{"field":"f","type":"quantitative","stack":true,"scale":{"range":[1.5708,7.854]}},"order":{"field":"t","sort":"descending"},"color":{"field":"t","type":"nominal","scale":{"domain":["OA","BC"],"range":["#00cc00","#000000"]},"legend":null}}},
 {"data":{"name":"pie"},"transform":[{"filter":"datum.p==2 && datum.t=='BC'"}],"mark":{"type":"text","align":"right","baseline":"middle","fontSize":22},"encoding":{"x":{"datum":142.3,"type":"quantitative","axis":null},"y":{"datum":10.43,"type":"quantitative","axis":null},"text":{"field":"f","type":"quantitative","format":".0%"},"color":{"field":"t","type":"nominal","scale":{"domain":["OA","BC"],"range":["#00cc00","#000000"]},"legend":null}}},
 {"data":{"name":"pie"},"transform":[{"filter":"datum.p==2 && datum.t=='OA'"}],"mark":{"type":"text","align":"right","baseline":"middle","fontSize":22},"encoding":{"x":{"datum":142.3,"type":"quantitative","axis":null},"y":{"datum":1.29,"type":"quantitative","axis":null},"text":{"field":"f","type":"quantitative","format":".0%"},"color":{"field":"t","type":"nominal","scale":{"domain":["OA","BC"],"range":["#00cc00","#000000"]},"legend":null}}}
]},
{"width":1040,"height":141.3,"resolve":{"axis":{"x":"independent","y":"independent"}},"layer":[
 {"data":{"name":"labels"},"transform":[{"filter":"datum.p==3"}],"mark":{"type":"rect","fill":"white","stroke":"black","strokeWidth":3},"encoding":{"x":{"datum":11.2,"type":"quantitative","axis":null},"x2":{"datum":35.15},"y":{"datum":11.23,"type":"quantitative","axis":null},"y2":{"datum":3.23}}},
 {"data":{"name":"labels"},"transform":[{"filter":"datum.p==3"}],"mark":{"type":"text","fontSize":22,"lineHeight":26,"lineBreak":"\n","align":"center","baseline":"middle","color":"black"},"encoding":{"x":{"datum":23.17,"type":"quantitative","axis":null},"y":{"datum":9.37,"type":"quantitative","axis":null},"text":{"field":"label"}}},
 {"data":{"name":"ms"},"transform":[{"filter":"datum.p==3"}],"mark":{"type":"bar","width":4,"orient":"vertical"},"encoding":{"x":{"field":"m","type":"quantitative","scale":{"domain":[10,143.03],"nice":false,"zero":false},"axis":{"orient":"bottom","ticks":false,"labels":false,"domain":true,"title":null}},"y":{"field":"v","type":"quantitative","stack":null,"scale":{"domain":[0,12],"nice":false},"axis":{"orient":"left","values":[0,5,10],"tickSize":19,"labelPadding":9,"title":null}},"color":{"field":"t","type":"nominal","scale":{"domain":["OA","BC"],"range":["#00cc00","#000000"]},"legend":null}}},
 {"data":{"values":[{}]},"mark":{"type":"rule","strokeWidth":3,"color":"black"},"encoding":{"x":{"datum":120,"type":"quantitative","axis":null},"y":{"datum":0,"type":"quantitative","axis":{"orient":"left","values":[1,2,3,4,6,7,8,9,11,12],"tickSize":10,"labels":false,"domain":false,"title":null}},"y2":{"datum":12}}},
 {"data":{"name":"pie"},"transform":[{"filter":"datum.p==3"}],"mark":{"type":"arc","outerRadius":59},"encoding":{"x":{"datum":130.1,"type":"quantitative","axis":null},"y":{"datum":6.15,"type":"quantitative","axis":null},"theta":{"field":"f","type":"quantitative","stack":true,"scale":{"range":[1.5708,7.854]}},"order":{"field":"t","sort":"descending"},"color":{"field":"t","type":"nominal","scale":{"domain":["OA","BC"],"range":["#00cc00","#000000"]},"legend":null}}},
 {"data":{"name":"pie"},"transform":[{"filter":"datum.p==3 && datum.t=='BC'"}],"mark":{"type":"text","align":"right","baseline":"middle","fontSize":22},"encoding":{"x":{"datum":142.3,"type":"quantitative","axis":null},"y":{"datum":9.87,"type":"quantitative","axis":null},"text":{"field":"f","type":"quantitative","format":".0%"},"color":{"field":"t","type":"nominal","scale":{"domain":["OA","BC"],"range":["#00cc00","#000000"]},"legend":null}}},
 {"data":{"name":"pie"},"transform":[{"filter":"datum.p==3 && datum.t=='OA'"}],"mark":{"type":"text","align":"right","baseline":"middle","fontSize":22},"encoding":{"x":{"datum":142.3,"type":"quantitative","axis":null},"y":{"datum":1.53,"type":"quantitative","axis":null},"text":{"field":"f","type":"quantitative","format":".0%"},"color":{"field":"t","type":"nominal","scale":{"domain":["OA","BC"],"range":["#00cc00","#000000"]},"legend":null}}}
]},
{"width":1040,"height":132.7,"resolve":{"axis":{"x":"independent","y":"independent"}},"layer":[
 {"data":{"name":"labels"},"transform":[{"filter":"datum.p==4"}],"mark":{"type":"rect","fill":"white","stroke":"black","strokeWidth":3},"encoding":{"x":{"datum":11.2,"type":"quantitative","axis":null},"x2":{"datum":34.5},"y":{"datum":11.28,"type":"quantitative","axis":null},"y2":{"datum":5.04}}},
 {"data":{"name":"labels"},"transform":[{"filter":"datum.p==4"}],"mark":{"type":"text","fontSize":22,"lineHeight":26,"lineBreak":"\n","align":"center","baseline":"middle","color":"black"},"encoding":{"x":{"datum":22.83,"type":"quantitative","axis":null},"y":{"datum":9.31,"type":"quantitative","axis":null},"text":{"field":"label"}}},
 {"data":{"name":"ms"},"transform":[{"filter":"datum.p==4"}],"mark":{"type":"bar","width":4,"orient":"vertical"},"encoding":{"x":{"field":"m","type":"quantitative","scale":{"domain":[10,143.03],"nice":false,"zero":false},"axis":{"orient":"bottom","ticks":false,"labels":false,"domain":true,"title":null}},"y":{"field":"v","type":"quantitative","stack":null,"scale":{"domain":[0,12],"nice":false},"axis":{"orient":"left","values":[0,5,10],"tickSize":19,"labelPadding":9,"title":null}},"color":{"field":"t","type":"nominal","scale":{"domain":["OA","BC"],"range":["#00cc00","#000000"]},"legend":null}}},
 {"data":{"values":[{}]},"mark":{"type":"rule","strokeWidth":3,"color":"black"},"encoding":{"x":{"datum":120,"type":"quantitative","axis":null},"y":{"datum":0,"type":"quantitative","axis":{"orient":"left","values":[1,2,3,4,6,7,8,9,11,12],"tickSize":10,"labels":false,"domain":false,"title":null}},"y2":{"datum":12}}},
 {"data":{"name":"pie"},"transform":[{"filter":"datum.p==4"}],"mark":{"type":"arc","outerRadius":59},"encoding":{"x":{"datum":130.1,"type":"quantitative","axis":null},"y":{"datum":5.75,"type":"quantitative","axis":null},"theta":{"field":"f","type":"quantitative","stack":true,"scale":{"range":[1.5708,7.854]}},"order":{"field":"t","sort":"descending"},"color":{"field":"t","type":"nominal","scale":{"domain":["OA","BC"],"range":["#00cc00","#000000"]},"legend":null}}},
 {"data":{"name":"pie"},"transform":[{"filter":"datum.p==4 && datum.t=='BC'"}],"mark":{"type":"text","align":"right","baseline":"middle","fontSize":22},"encoding":{"x":{"datum":142.3,"type":"quantitative","axis":null},"y":{"datum":10.0,"type":"quantitative","axis":null},"text":{"field":"f","type":"quantitative","format":".0%"},"color":{"field":"t","type":"nominal","scale":{"domain":["OA","BC"],"range":["#00cc00","#000000"]},"legend":null}}},
 {"data":{"name":"pie"},"transform":[{"filter":"datum.p==4 && datum.t=='OA'"}],"mark":{"type":"text","align":"right","baseline":"middle","fontSize":22},"encoding":{"x":{"datum":142.3,"type":"quantitative","axis":null},"y":{"datum":1.42,"type":"quantitative","axis":null},"text":{"field":"f","type":"quantitative","format":".0%"},"color":{"field":"t","type":"nominal","scale":{"domain":["OA","BC"],"range":["#00cc00","#000000"]},"legend":null}}}
]},
{"width":1040,"height":132.6,"resolve":{"axis":{"x":"independent","y":"independent"}},"layer":[
 {"data":{"name":"labels"},"transform":[{"filter":"datum.p==5"}],"mark":{"type":"rect","fill":"white","stroke":"black","strokeWidth":3},"encoding":{"x":{"datum":11.2,"type":"quantitative","axis":null},"x2":{"datum":32.72},"y":{"datum":11.31,"type":"quantitative","axis":null},"y2":{"datum":5.07}}},
 {"data":{"name":"labels"},"transform":[{"filter":"datum.p==5"}],"mark":{"type":"text","fontSize":22,"lineHeight":26,"lineBreak":"\n","align":"center","baseline":"middle","color":"black"},"encoding":{"x":{"datum":21.93,"type":"quantitative","axis":null},"y":{"datum":9.35,"type":"quantitative","axis":null},"text":{"field":"label"}}},
 {"data":{"name":"ms"},"transform":[{"filter":"datum.p==5"}],"mark":{"type":"bar","width":4,"orient":"vertical"},"encoding":{"x":{"field":"m","type":"quantitative","scale":{"domain":[10,143.03],"nice":false,"zero":false},"axis":{"orient":"bottom","ticks":false,"labels":false,"domain":true,"title":null}},"y":{"field":"v","type":"quantitative","stack":null,"scale":{"domain":[0,12],"nice":false},"axis":{"orient":"left","values":[0,5,10],"tickSize":19,"labelPadding":9,"title":null}},"color":{"field":"t","type":"nominal","scale":{"domain":["OA","BC"],"range":["#00cc00","#000000"]},"legend":null}}},
 {"data":{"values":[{}]},"mark":{"type":"rule","strokeWidth":3,"color":"black"},"encoding":{"x":{"datum":120,"type":"quantitative","axis":null},"y":{"datum":0,"type":"quantitative","axis":{"orient":"left","values":[1,2,3,4,6,7,8,9,11,12],"tickSize":10,"labels":false,"domain":false,"title":null}},"y2":{"datum":12}}},
 {"data":{"name":"pie"},"transform":[{"filter":"datum.p==5"}],"mark":{"type":"arc","outerRadius":59},"encoding":{"x":{"datum":130.1,"type":"quantitative","axis":null},"y":{"datum":5.79,"type":"quantitative","axis":null},"theta":{"field":"f","type":"quantitative","stack":true,"scale":{"range":[1.5708,7.854]}},"order":{"field":"t","sort":"descending"},"color":{"field":"t","type":"nominal","scale":{"domain":["OA","BC"],"range":["#00cc00","#000000"]},"legend":null}}},
 {"data":{"name":"pie"},"transform":[{"filter":"datum.p==5 && datum.t=='BC'"}],"mark":{"type":"text","align":"right","baseline":"middle","fontSize":22},"encoding":{"x":{"datum":142.3,"type":"quantitative","axis":null},"y":{"datum":10.4,"type":"quantitative","axis":null},"text":{"field":"f","type":"quantitative","format":".0%"},"color":{"field":"t","type":"nominal","scale":{"domain":["OA","BC"],"range":["#00cc00","#000000"]},"legend":null}}},
 {"data":{"name":"pie"},"transform":[{"filter":"datum.p==5 && datum.t=='OA'"}],"mark":{"type":"text","align":"right","baseline":"middle","fontSize":22},"encoding":{"x":{"datum":142.3,"type":"quantitative","axis":null},"y":{"datum":1.36,"type":"quantitative","axis":null},"text":{"field":"f","type":"quantitative","format":".0%"},"color":{"field":"t","type":"nominal","scale":{"domain":["OA","BC"],"range":["#00cc00","#000000"]},"legend":null}}},
 {"data":{"values":[{"s":"OA, BC relative ion signal (%)","g":"OA,"}]},"mark":{"type":"text","angle":270,"align":"left","baseline":"middle","fontSize":30,"color":"black"},"encoding":{"x":{"datum":-2.62,"type":"quantitative","axis":null},"y":{"datum":5.73,"type":"quantitative","axis":null},"text":{"field":"s"}}},
 {"data":{"values":[{"s":"OA, BC relative ion signal (%)","g":"OA,"}]},"mark":{"type":"text","angle":270,"align":"left","baseline":"middle","fontSize":30,"color":"#00cc00"},"encoding":{"x":{"datum":-2.62,"type":"quantitative","axis":null},"y":{"datum":5.73,"type":"quantitative","axis":null},"text":{"field":"g"}}}
]},
{"width":1040,"height":140.4,"resolve":{"axis":{"x":"independent","y":"independent"}},"layer":[
 {"data":{"name":"labels"},"transform":[{"filter":"datum.p==6"}],"mark":{"type":"rect","fill":"white","stroke":"black","strokeWidth":3},"encoding":{"x":{"datum":11.2,"type":"quantitative","axis":null},"x2":{"datum":33.96},"y":{"datum":11.25,"type":"quantitative","axis":null},"y2":{"datum":5.43}}},
 {"data":{"name":"labels"},"transform":[{"filter":"datum.p==6"}],"mark":{"type":"text","fontSize":22,"lineHeight":26,"lineBreak":"\n","align":"center","baseline":"middle","color":"black"},"encoding":{"x":{"datum":22.57,"type":"quantitative","axis":null},"y":{"datum":9.44,"type":"quantitative","axis":null},"text":{"field":"label"}}},
 {"data":{"name":"ms"},"transform":[{"filter":"datum.p==6"}],"mark":{"type":"bar","width":4,"orient":"vertical"},"encoding":{"x":{"field":"m","type":"quantitative","scale":{"domain":[10,143.03],"nice":false,"zero":false},"axis":{"orient":"bottom","values":[10,20,30,40,50,60,70,80,90,100,110,120],"tickSize":19,"labelPadding":15,"domain":true,"title":"m/z","titleFontSize":30,"titleX":430,"titleY":85,"titleBaseline":"alphabetic"}},"y":{"field":"v","type":"quantitative","stack":null,"scale":{"domain":[0,12],"nice":false},"axis":{"orient":"left","values":[0,5,10],"tickSize":19,"labelPadding":9,"title":null}},"color":{"field":"t","type":"nominal","scale":{"domain":["OA","BC"],"range":["#00cc00","#000000"]},"legend":null}}},
 {"data":{"values":[{}]},"mark":{"type":"rule","strokeWidth":3,"color":"black"},"encoding":{"x":{"datum":120,"type":"quantitative","axis":{"orient":"bottom","values":[12,14,16,18,22,24,26,28,32,34,36,38,42,44,46,48,52,54,56,58,62,64,66,68,72,74,76,78,82,84,86,88,92,94,96,98,102,104,106,108,112,114,116,118],"tickSize":10,"labels":false,"domain":false,"title":null}},"y":{"datum":0,"type":"quantitative","axis":{"orient":"left","values":[1,2,3,4,6,7,8,9,11,12],"tickSize":10,"labels":false,"domain":false,"title":null}},"y2":{"datum":12}}},
 {"data":{"name":"pie"},"transform":[{"filter":"datum.p==6"}],"mark":{"type":"arc","outerRadius":59},"encoding":{"x":{"datum":130.1,"type":"quantitative","axis":null},"y":{"datum":6.04,"type":"quantitative","axis":null},"theta":{"field":"f","type":"quantitative","stack":true,"scale":{"range":[1.5708,7.854]}},"order":{"field":"t","sort":"descending"},"color":{"field":"t","type":"nominal","scale":{"domain":["OA","BC"],"range":["#00cc00","#000000"]},"legend":null}}},
 {"data":{"name":"pie"},"transform":[{"filter":"datum.p==6 && datum.t=='BC'"}],"mark":{"type":"text","align":"right","baseline":"middle","fontSize":22},"encoding":{"x":{"datum":142.3,"type":"quantitative","axis":null},"y":{"datum":9.97,"type":"quantitative","axis":null},"text":{"field":"f","type":"quantitative","format":".0%"},"color":{"field":"t","type":"nominal","scale":{"domain":["OA","BC"],"range":["#00cc00","#000000"]},"legend":null}}},
 {"data":{"name":"pie"},"transform":[{"filter":"datum.p==6 && datum.t=='OA'"}],"mark":{"type":"text","align":"right","baseline":"middle","fontSize":22},"encoding":{"x":{"datum":142.3,"type":"quantitative","axis":null},"y":{"datum":1.59,"type":"quantitative","axis":null},"text":{"field":"f","type":"quantitative","format":".0%"},"color":{"field":"t","type":"nominal","scale":{"domain":["OA","BC"],"range":["#00cc00","#000000"]},"legend":null}}}
]}
]
}
